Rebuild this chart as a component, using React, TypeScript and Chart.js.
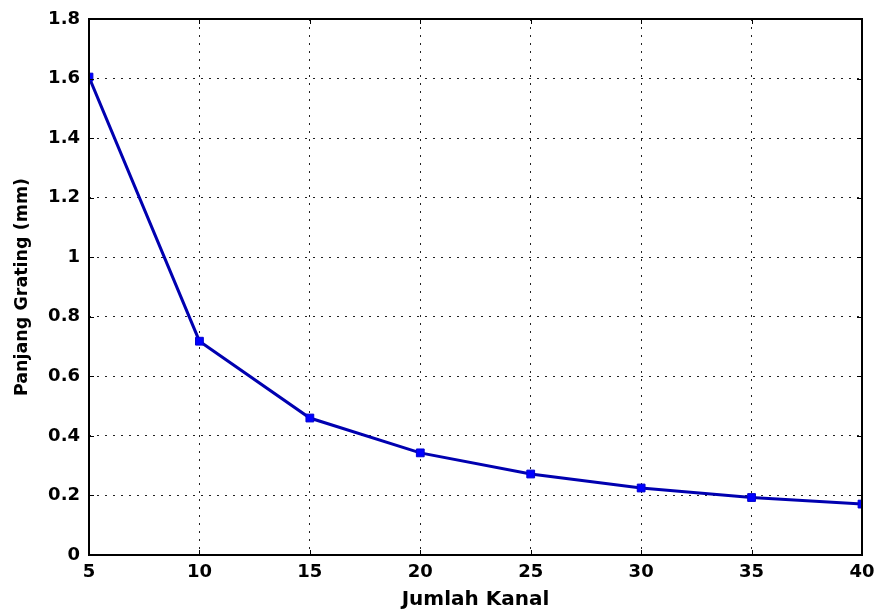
import React, { useEffect, useRef } from "react";
import { Chart, registerables } from "chart.js";

Chart.register(...registerables);

const channels = [5, 10, 15, 20, 25, 30, 35, 40];
const gratingLength = [1.605, 0.718, 0.46, 0.343, 0.272, 0.225, 0.193, 0.171];
const xTitle = "Jumlah Kanal";
const yTitle = "Panjang Grating (mm)";

const boxPlugin = {
  id: "matlabBox",
  afterDraw(chart: any) {
    const { ctx, chartArea } = chart;
    const { left, top, right, bottom } = chartArea;
    ctx.save();
    ctx.strokeStyle = "#000";
    ctx.lineWidth = 1;
    const tl = 5;
    ctx.beginPath();
    const xs = chart.scales.x;
    xs.ticks.forEach((t: any) => {
      const px = Math.round(xs.getPixelForValue(t.value)) + 0.5;
      ctx.moveTo(px, bottom);
      ctx.lineTo(px, bottom - tl);
      ctx.moveTo(px, top);
      ctx.lineTo(px, top + tl);
    });
    const ys = chart.scales.y;
    ys.ticks.forEach((t: any) => {
      const py = Math.round(ys.getPixelForValue(t.value)) + 0.5;
      ctx.moveTo(left, py);
      ctx.lineTo(left + tl, py);
      ctx.moveTo(right, py);
      ctx.lineTo(right - tl, py);
    });
    ctx.stroke();
    ctx.lineWidth = 2;
    ctx.strokeRect(left, top, right - left, bottom - top);
    ctx.restore();
  },
};

export default function App() {
  const ref = useRef<HTMLCanvasElement | null>(null);
  useEffect(() => {
    document.body.style.margin = "0";
    const chart = new Chart(ref.current as HTMLCanvasElement, {
      type: "line",
      data: {
        labels: channels,
        datasets: [
          {
            data: channels.map((x, i) => ({ x, y: gratingLength[i] })),
            borderColor: "#0000b0",
            borderWidth: 3,
            backgroundColor: "#0000ff",
            pointStyle: "rect",
            pointRadius: 5.5,
            pointBorderColor: "#0000d0",
            pointBorderWidth: 1,
            tension: 0,
          },
        ],
      },
      options: {
        responsive: false,
        animation: false,
        layout: { padding: { left: 0, top: 19, right: 15, bottom: 0 } },
        plugins: { legend: { display: false }, tooltip: { enabled: false } },
        scales: {
          x: {
            type: "linear",
            min: 5,
            max: 40,
            ticks: {
              stepSize: 5,
              color: "#000",
              padding: 7,
              font: { family: "DejaVu Sans", weight: "bold", size: 18 },
            },
            grid: {
              color: "#222",
              lineWidth: 1,
              drawTicks: false,
            },
            border: { display: false, dash: [2, 6] },
            title: {
              display: true,
              text: xTitle,
              color: "#000",
              padding: { top: 0, bottom: 0 },
              font: { family: "DejaVu Sans", weight: "bold", size: 20 },
            },
            afterFit(scale: any) {
              scale.height = 57;
              scale.paddingLeft = 0;
              scale.paddingRight = 0;
            },
          },
          y: {
            min: 0,
            max: 1.8,
            ticks: {
              stepSize: 0.2,
              color: "#000",
              padding: 9,
              callback: (v: any) => String(Math.round(Number(v) * 10) / 10),
              font: { family: "DejaVu Sans", weight: "bold", size: 18 },
            },
            grid: {
              color: "#222",
              lineWidth: 1,
              drawTicks: false,
            },
            border: { display: false, dash: [2, 6] },
            title: {
              display: true,
              text: yTitle,
              color: "#000",
              padding: { top: 11.5, bottom: 0 },
              font: { family: "DejaVu Sans", weight: "bold", size: 17.5 },
            },
            afterFit(scale: any) {
              scale.width = 89;
              scale.paddingTop = 0;
              scale.paddingBottom = 0;
            },
          },
        },
      },
      plugins: [boxPlugin],
    } as any);
    return () => chart.destroy();
  }, []);
  return (
    <div style={{ position: "absolute", left: 0, top: 0, width: 877, height: 612, background: "#fff" }}>
      <canvas ref={ref} width={877} height={612} />
    </div>
  );
}
